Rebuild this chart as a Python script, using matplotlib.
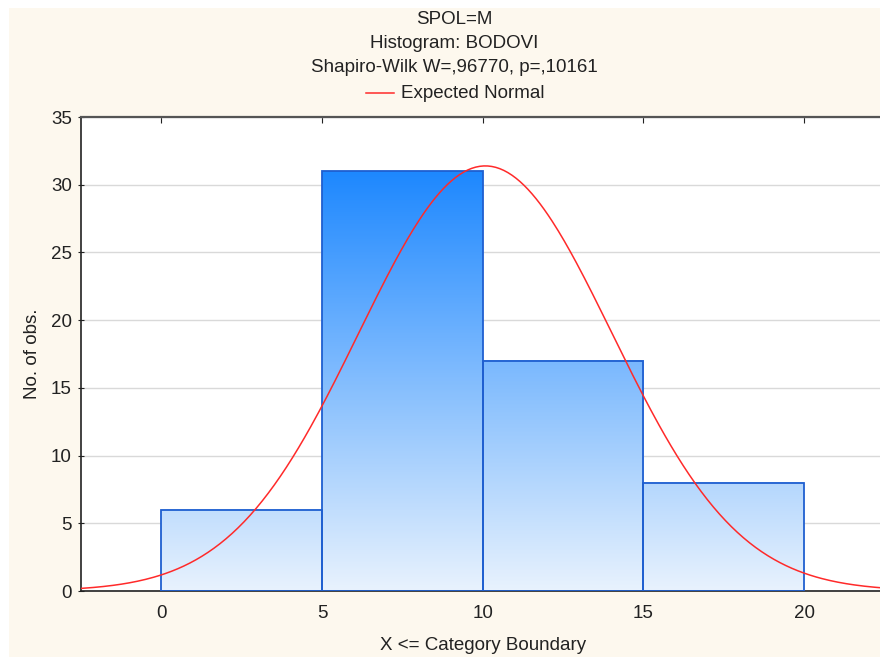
import numpy as np
import matplotlib.pyplot as plt
from matplotlib.colors import LinearSegmentedColormap, Normalize
from matplotlib.patches import Rectangle
from matplotlib.lines import Line2D

plt.rcParams['font.family'] = ['Liberation Sans', 'DejaVu Sans']

# histogram data
bin_edges = [0, 5, 10, 15, 20]
counts = [6, 31, 17, 8]
x_ticks = [0, 5, 10, 15, 20]
y_ticks = [0, 5, 10, 15, 20, 25, 30, 35]

# expected normal fit (mean, sd of the sample)
fit_mean = 10.08
fit_sd = 3.94

title_lines = ["SPOL=M", "Histogram: BODOVI", "Shapiro-Wilk W=,96770, p=,10161"]

fs = 13.5
cream = "#fdf8ee"
fig = plt.figure(figsize=(8.8, 6.57), dpi=100, facecolor="white")
fig.patches.append(Rectangle((9 / 880, 0), 1, 1 - 8 / 657, transform=fig.transFigure,
                             facecolor=cream, edgecolor="none", zorder=-10))

ax = fig.add_axes([81 / 880, 66 / 657, 803.5 / 880, 474 / 657])
ax.set_facecolor("white")

cmap = LinearSegmentedColormap.from_list("bars", ["#e8f2fd", "#1e88ff"])
norm = Normalize(0, max(counts))

for i, c in enumerate(counts):
    x0, x1 = bin_edges[i], bin_edges[i] + 5
    grad = np.linspace(0, c, 200).reshape(-1, 1)
    ax.imshow(grad, cmap=cmap, norm=norm, extent=(x0, x1, 0, c), origin="lower",
              aspect="auto", zorder=2, interpolation="bilinear")
    ax.add_patch(Rectangle((x0, 0), 5, c, facecolor="none", edgecolor="#1f5fd0",
                           linewidth=1.3, zorder=3))

# expected normal curve scaled to counts
n_obs = sum(counts)
bw = 5
xs = np.linspace(-2.5, 22.5, 400)
ys = n_obs * bw * np.exp(-0.5 * ((xs - fit_mean) / fit_sd) ** 2) / (fit_sd * np.sqrt(2 * np.pi))
ax.plot(xs, ys, color="#ff2a2a", linewidth=1.1, zorder=4)

ax.set_xlim(-2.5, 22.5)
ax.set_ylim(0, 35)
ax.set_xticks(x_ticks)
ax.set_yticks(y_ticks)
ax.yaxis.grid(True, color="#d9d9d9", linewidth=1.0, zorder=0)
ax.set_axisbelow(True)
ax.tick_params(axis="y", direction="inout", length=5, labelsize=fs, pad=4, colors="#222222")
ax.tick_params(axis="x", direction="in", length=4, labelsize=fs, pad=10, colors="#222222",
               top=True, bottom=False)
for s in ["left", "bottom"]:
    ax.spines[s].set_color("#222222")
    ax.spines[s].set_linewidth(1.2)
ax.spines["top"].set_color("#555555")
ax.spines["top"].set_linewidth(1.6)
ax.spines["right"].set_visible(False)

ax.set_xlabel("X <= Category Boundary", fontsize=fs, color="#222222", labelpad=11)
ax.set_ylabel("No. of obs.", fontsize=fs, color="#222222", labelpad=7)

ys_title = [19, 43, 68]
for t, yp in zip(title_lines, ys_title):
    fig.text(454 / 880, 1 - yp / 657, t, ha="center", va="center", fontsize=fs, color="#222222")
fig.lines.append(Line2D([366 / 880, 394 / 880], [1 - 93 / 657] * 2, transform=fig.transFigure,
                        color="#ff2a2a", linewidth=1.1))
fig.text(401 / 880, 1 - 93 / 657, "Expected Normal", ha="left", va="center", fontsize=fs,
         color="#222222")

fig.savefig("out.png", dpi=100, facecolor=fig.get_facecolor())
